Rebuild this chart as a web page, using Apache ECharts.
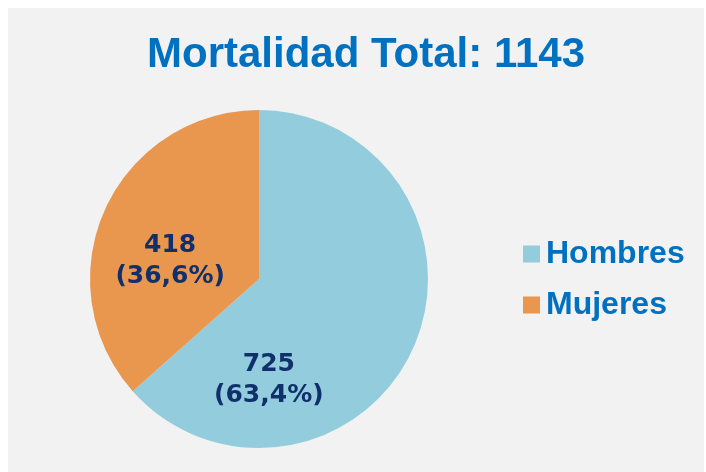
<!DOCTYPE html>
<html>
<head>
    <meta charset="utf-8">
    <title>Mortalidad Total</title>
    <style>
        body { margin: 0; background: #ffffff; }
        #main { position: absolute; left: 8px; top: 8px; width: 696px; height: 464px; }
    </style>
</head>
<body>
<div id="main"></div>
<script src="https://cdn.jsdelivr.net/npm/echarts@6/dist/echarts.min.js"></script>
<script>
var categories = ['Hombres', 'Mujeres'];
var values = [725, 418];
var colors = ['#93CDDD', '#E9964F'];
// label nudges (px) to sit the text where the original has it
var labelOffsets = [[-70, 65], [-9, 18]];

var total = values.reduce(function (a, b) { return a + b; }, 0);

function pct(v) {
    return (v / total * 100).toFixed(1).replace('.', ',') + '%';
}

var pieData = categories.map(function (name, i) {
    return {
        name: name,
        value: values[i],
        itemStyle: { color: colors[i] },
        label: { offset: labelOffsets[i] }
    };
});

var myChart = echarts.init(document.getElementById('main'));

var option = {
    backgroundColor: '#F2F2F2',
    animation: false,
    title: {
        text: 'Mortalidad Total: ' + total,
        left: 353,
        top: 21,
        textAlign: 'center',
        textStyle: {
            fontFamily: 'Liberation Sans, Arial, sans-serif',
            fontWeight: 'bold',
            fontSize: 42,
            color: '#0070C0'
        }
    },
    legend: {
        orient: 'vertical',
        left: 510,
        top: 224,
        itemWidth: 17,
        itemHeight: 17,
        itemGap: 17,
        icon: 'rect',
        data: categories,
        textStyle: {
            fontFamily: 'Liberation Sans, Arial, sans-serif',
            fontWeight: 'bold',
            fontSize: 32,
            lineHeight: 34,
            color: '#0070C0',
            padding: [0, 0, 0, 1]
        }
    },
    series: [{
        type: 'pie',
        center: [251, 271],
        radius: 169,
        startAngle: 90,
        clockwise: true,
        label: {
            show: true,
            position: 'inside',
            formatter: function (p) {
                return p.value + '\n(' + pct(p.value) + ')';
            },
            fontFamily: 'DejaVu Sans, Verdana, sans-serif',
            fontWeight: 'bold',
            fontSize: 25,
            lineHeight: 31,
            color: '#10306B',
            align: 'center'
        },
        labelLine: { show: false },
        emphasis: { disabled: true },
        data: pieData
    }]
};

myChart.setOption(option);
</script>
</body>
</html>
